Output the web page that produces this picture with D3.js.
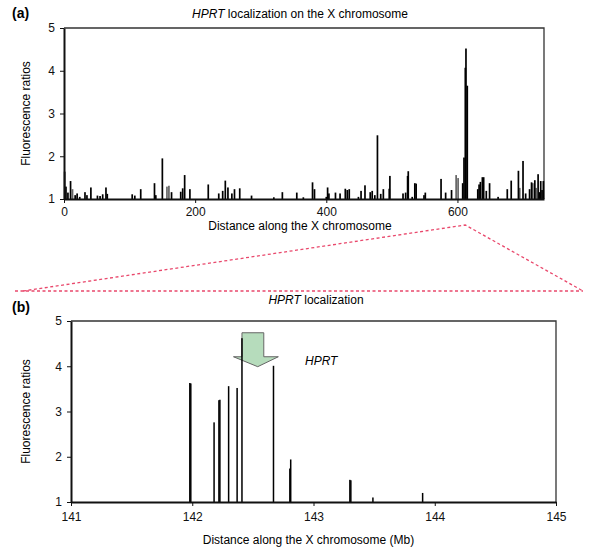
<!DOCTYPE html>
<html>
<head>
<meta charset="utf-8">
<script src="https://cdn.jsdelivr.net/npm/d3@7"></script>
<style>
  body { margin: 0; background: #fff; }
  svg { font-family: "Liberation Sans", Arial, sans-serif; }
  .axis text { font-size: 12px; fill: #111; }
  .axis path, .axis line { stroke: #111; }
</style>
</head>
<body>
<div id="chart"></div>
<script>
// panel (a): whole X chromosome, position and ratio of each probe
var aX = [1, 3, 6, 10, 17, 20, 24, 32, 35, 41, 51, 55, 59, 64, 66, 104, 108, 117, 138, 140, 150, 164,
  178, 181, 184, 192, 220, 236, 242, 246, 250, 256, 260, 268, 286, 320, 333, 355, 365, 379, 382,
  400, 402, 404, 414, 421, 429, 432, 435, 449, 453, 459, 467, 470, 474, 478, 483, 487, 496, 497,
  517, 521, 524, 525, 531, 535, 537, 549, 551, 575, 582, 591, 608, 610, 612, 613, 615, 631, 633,
  635, 638, 640, 644, 649, 662, 676, 682, 693, 700, 704, 710, 713, 718, 723, 725, 727, 729, 731]
var aY = [1.64, 1.29, 1.15, 1.42, 1.09, 1.13, 1.05, 1.16, 1.09, 1.27, 1.08, 1.07, 1.11, 1.27, 1.12,
  1.11, 1.08, 1.23, 1.37, 1.09, 1.95, 1.16, 1.17, 1.25, 1.56, 1.23, 1.34, 1.13, 1.19, 1.43, 1.27,
  1.13, 1.23, 1.25, 1.08, 1.04, 1.16, 1.15, 1.04, 1.39, 1.23, 1.05, 1.27, 1.13, 1.15, 1.13, 1.24,
  1.21, 1.23, 1.05, 1.19, 1.32, 1.16, 1.19, 1.09, 2.49, 1.12, 1.23, 1.24, 1.54, 1.13, 1.15, 1.54,
  1.65, 1.05, 1.37, 1.36, 1.09, 1.15, 1.47, 1.15, 1.21, 1.37, 1.97, 4.07, 4.52, 3.65, 1.23, 1.34,
  1.40, 1.51, 1.51, 1.19, 1.37, 1.05, 1.23, 1.43, 1.66, 1.89, 1.13, 1.23, 1.39, 1.44, 1.58, 1.16,
  1.42, 1.21, 1.42]
// second (grey) series in panel (a)
var aGreyX = [13, 157, 160, 598, 601, 695, 715, 720]
var aGreyY = [1.23, 1.29, 1.31, 1.56, 1.49, 1.26, 1.37, 1.26]

// panel (b): zoom on the HPRT region (Mb)
var bX = [141.98, 141.988, 142.18, 142.22, 142.228, 142.30, 142.37, 142.41, 142.67, 142.805, 142.812,
  143.30, 143.308, 143.49, 143.90]
var bY = [3.63, 3.62, 2.76, 3.25, 3.26, 3.56, 3.52, 4.62, 4.01, 1.74, 1.94, 1.49, 1.48, 1.10, 1.20]

var yTicks = [1, 2, 3, 4, 5]
var aTicks = [0, 200, 400, 600]
var bTicks = [141, 142, 143, 144, 145]
var hprtPos = 612   // where panel (b) zooms in, on panel (a)
var arrowX = [142.41, 142.59, 142.34, 142.71, 142.54]  // shaft left/right, head left/right, tip
var arrowY = [4.74, 4.21, 3.99]                         // shaft top, head base, tip

var svg = d3.select('#chart').append('svg').attr('width', 600).attr('height', 558)

function panel(o) {
  var x = d3.scaleLinear().domain(o.xd).range([o.l, o.r])
  var y = d3.scaleLinear().domain([1, 5]).range([o.b, o.t])
  var g = svg.append('g')

  // frame top / right
  g.append('path')
    .attr('d', 'M' + o.l + ',' + o.t + 'H' + o.r + 'V' + o.b)
    .attr('fill', 'none').attr('stroke', '#333').attr('stroke-width', 1.3)

  g.append('g').attr('class', 'axis')
    .attr('transform', 'translate(0,' + o.b + ')')
    .call(d3.axisBottom(x).tickValues(o.xt).tickFormat(d3.format('d')).tickSize(4).tickSizeOuter(0).tickPadding(o.xPad))
    .call(s => s.select('.domain').attr('stroke-width', 2))
  g.append('g').attr('class', 'axis')
    .attr('transform', 'translate(' + o.l + ',0)')
    .call(d3.axisLeft(y).tickValues(yTicks).tickFormat(d3.format('d')).tickSize(4).tickSizeOuter(0).tickPadding(5))
    .call(s => s.select('.domain').attr('stroke-width', 2))

  g.append('text').attr('x', 12).attr('y', o.labelY)
    .attr('font-weight', 'bold').attr('font-size', 14).text(o.tag)
  g.append('text').attr('x', o.titleX).attr('y', o.titleY).attr('text-anchor', 'middle')
    .attr('font-size', 12)
    .call(t => { t.append('tspan').attr('font-style', 'italic').text('HPRT'); t.append('tspan').text(o.title) })
  g.append('text').attr('x', (o.l + o.r) / 2 + o.xlDx).attr('y', o.xlY).attr('text-anchor', 'middle')
    .attr('font-size', 12).text(o.xlab)
  g.append('text').attr('transform', 'translate(30,' + (o.t + o.b) / 2 + ') rotate(-90)')
    .attr('text-anchor', 'middle').attr('font-size', 12).text('Fluorescence ratios')
  return {g: g, x: x, y: y}
}

function bars(p, xs, ys, w, col) {
  p.g.insert('g', '.axis').selectAll('rect').data(xs).join('rect')
    .attr('x', (d) => p.x(d) - w / 2)
    .attr('width', w)
    .attr('y', (d, i) => p.y(ys[i]))
    .attr('height', (d, i) => p.y(1) - p.y(ys[i]))
    .attr('fill', col)
}

// ---- panel (a)
var A = panel({l: 64, r: 544, t: 28, b: 199, xd: [0, 732], xt: aTicks, xPad: 4, tag: '(a)', labelY: 18,
  title: ' localization on the X chromosome', titleX: 300, titleY: 18,
  xlab: 'Distance along the X chromosome', xlDx: -4, xlY: 230})
bars(A, aGreyX, aGreyY, 1.7, '#666')
bars(A, aX, aY, 1.7, '#000')

// ---- panel (b)
var B = panel({l: 71, r: 556, t: 321, b: 502, xd: [141, 145], xt: bTicks, xPad: 6, tag: '(b)', labelY: 312,
  title: ' localization', titleX: 316, titleY: 304,
  xlab: 'Distance along the X chromosome (Mb)', xlDx: -5, xlY: 544})

var arrowPts = [[arrowX[0], arrowY[0]], [arrowX[1], arrowY[0]], [arrowX[1], arrowY[1]], [arrowX[3], arrowY[1]],
  [arrowX[4], arrowY[2]], [arrowX[2], arrowY[1]], [arrowX[0], arrowY[1]]]
B.g.insert('polygon', '.axis')
  .attr('points', arrowPts.map(p => B.x(p[0]) + ',' + B.y(p[1])).join(' '))
  .attr('fill', '#b6dcbc').attr('stroke', '#666').attr('stroke-width', 1)
bars(B, bX, bY, 1.5, '#000')
B.g.append('text').attr('x', B.x(142.93)).attr('y', B.y(4.03))
  .attr('font-style', 'italic').attr('font-size', 12).text('HPRT')

// ---- dashed zoom guide
var apex = [A.x(hprtPos), 225]
var dash = svg.append('g').attr('fill', 'none').attr('stroke', '#e9486c')
  .attr('stroke-width', 1.3).attr('stroke-dasharray', '3,2.5')
dash.append('path').attr('d', 'M23,291L' + apex + 'L583,291')
dash.append('path').attr('d', 'M15,291H583')
</script>
</body>
</html>
